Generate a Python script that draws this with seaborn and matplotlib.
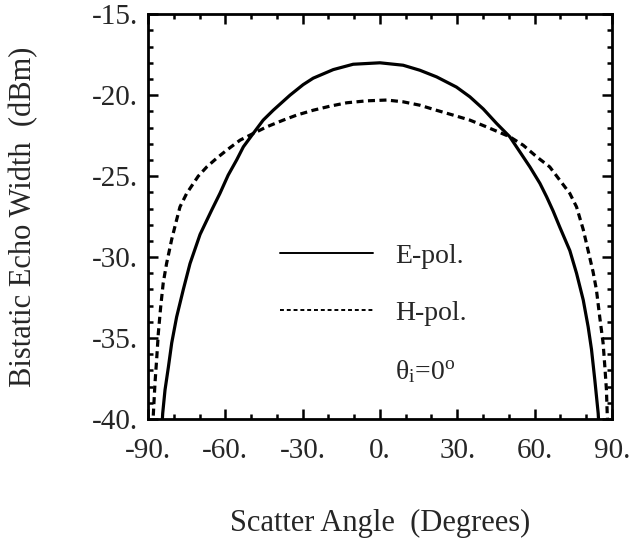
"""
bistatic echo width vs scatter angle, E-pol and H-pol at normal incidence
"""

import numpy as np
import pandas as pd
import seaborn as sns
import matplotlib.pyplot as plt
from matplotlib.lines import Line2D
from matplotlib.ticker import MultipleLocator, FuncFormatter

# values
ePolAngle = [-84.6, -84.3, -83.4, -82.1, -80.8, -78.9, -76.3, -73.7, -69.8, -65.3,
             -62.1, -58.9, -55.6, -53.0, -49.2, -45.3, -41.4, -34.9, -29.8, -25.9,
             -18.1, -10.4, 0.0, 9.0, 15.5, 22.0, 29.7, 34.9, 40.1, 45.3,
             50.4, 54.3, 58.2, 62.1, 64.7, 67.2, 69.8, 73.7, 76.3, 78.9,
             80.8, 82.1, 83.4, 84.7, 85.0]
ePolDb = [-40.5, -39.65, -38.2, -36.8, -35.3, -33.7, -32.0, -30.4, -28.6, -27.1,
          -26.07, -24.94, -24.0, -23.19, -22.37, -21.54, -20.93, -20.0, -19.35, -18.95,
          -18.42, -18.09, -18.0, -18.15, -18.46, -18.87, -19.5, -20.1, -20.85, -21.75,
          -22.57, -23.5, -24.43, -25.45, -26.28, -27.15, -28.15, -29.6, -31.0, -32.65,
          -34.3, -35.7, -37.6, -39.65, -40.5]

hPolAngle = [-88.2, -87.9, -87.3, -86.6, -86.0, -85.1, -84.1, -82.8, -80.8, -78.9,
             -77.6, -75.0, -72.4, -70.5, -67.2, -63.4, -59.5, -54.3, -49.2, -44.0,
             -37.5, -32.3, -25.9, -19.4, -12.9, -5.2, 2.6, 9.0, 15.5, 21.9,
             28.4, 34.9, 41.4, 50.4, 55.6, 60.8, 65.9, 69.8, 73.7, 76.3,
             78.9, 80.8, 82.7, 84.0, 85.3, 86.6, 87.3, 87.9, 88.2, 88.5]
hPolDb = [-40.5, -39.6, -37.8, -36.2, -34.7, -33.1, -31.6, -30.4, -28.9, -27.7,
          -26.9, -26.07, -25.45, -25.0, -24.43, -23.9, -23.4, -22.78, -22.37, -21.96,
          -21.54, -21.23, -20.93, -20.68, -20.47, -20.35, -20.3, -20.41, -20.62, -20.93,
          -21.23, -21.54, -21.96, -22.57, -23.09, -23.8, -24.43, -25.25, -26.07, -26.9,
          -28.3, -29.6, -30.9, -32.0, -33.7, -35.3, -36.8, -38.2, -39.65, -40.5]

datE = pd.DataFrame({'angle': ePolAngle, 'width': ePolDb})
datH = pd.DataFrame({'angle': hPolAngle, 'width': hPolDb})

sns.set_style('ticks')
plt.rcParams['font.family'] = ['Liberation Serif', 'DejaVu Serif']
plt.rcParams['mathtext.fontset'] = 'custom'
plt.rcParams['mathtext.rm'] = 'Liberation Serif'
plt.rcParams['mathtext.it'] = 'Liberation Serif:italic'

fig = plt.figure(figsize=(6.38, 5.47), dpi=100)
ax = fig.add_axes([0.232, 0.234, 0.727, 0.740])

sns.lineplot(x='angle', y='width', data=datE, ax=ax, color='black',
             linewidth=2.3, sort=False, legend=False)
sns.lineplot(x='angle', y='width', data=datH, ax=ax, color='black',
             linewidth=2.3, linestyle=(0, (2.2, 1.4)), sort=False, legend=False)

ax.set_xlim(-90, 90)
ax.set_ylim(-40, -15)
ax.xaxis.set_major_locator(MultipleLocator(30))
ax.xaxis.set_minor_locator(MultipleLocator(10))
ax.yaxis.set_major_locator(MultipleLocator(5))
ax.yaxis.set_minor_locator(MultipleLocator(1))
fmt = FuncFormatter(lambda v, pos: f"{v:.0f}.")
ax.xaxis.set_major_formatter(fmt)
ax.yaxis.set_major_formatter(fmt)

for side in ['top', 'right', 'bottom', 'left']:
    ax.spines[side].set_linewidth(2.0)
    ax.spines[side].set_color('black')

ax.tick_params(which='both', direction='in', top=True, right=True,
               color='black', width=1.8)
ax.tick_params(which='major', length=7, labelsize=21)
ax.tick_params(which='minor', length=3.5)
ax.tick_params(axis='x', which='major', pad=14)
ax.tick_params(axis='y', which='major', pad=7)

ax.set_xlabel('Scatter Angle  (Degrees)', fontsize=22)
ax.set_ylabel('Bistatic Echo Width  (dBm)', fontsize=22)
ax.xaxis.set_label_coords(0.5, -0.222)
ax.yaxis.set_label_coords(-0.237, 0.5)

# legend
handles = [Line2D([], [], color='black', linewidth=1.4),
           Line2D([], [], color='black', linewidth=1.4, linestyle=(0, (2.0, 1.5))),
           Line2D([], [], color='none')]
labels = ['E-pol.', 'H-pol.', r'θ$_\mathrm{i}$=0$^\mathrm{o}$']
ax.legend(handles, labels, frameon=False, fontsize=20, handlelength=3.35,
          handletextpad=0.8, labelspacing=1.16, loc='upper left',
          bbox_to_anchor=(0.26, 0.462), borderaxespad=0)

plt.savefig('out.png', dpi=100)
